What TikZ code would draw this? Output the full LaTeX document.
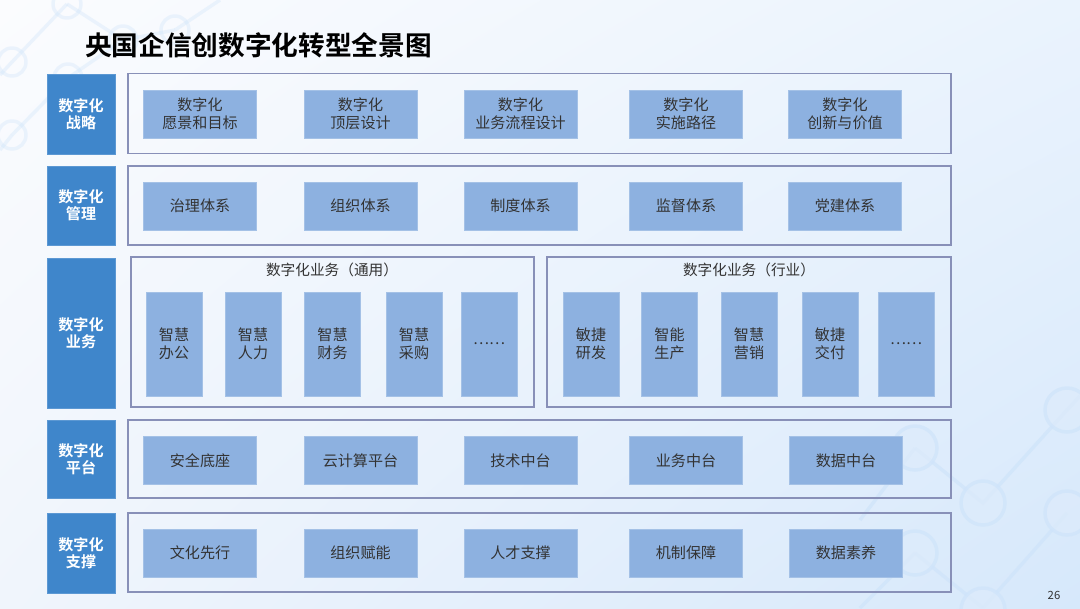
\documentclass[tikz,border=0pt]{standalone}
\usepackage{fontspec}
\usetikzlibrary{shadings}
\setmainfont{Noto Sans CJK SC}[BoldFont={Noto Sans CJK SC Bold}]
\definecolor{lblblue}{HTML}{3F86CB}
\definecolor{boxblue}{HTML}{8DB1E0}
\definecolor{framec}{HTML}{8890B8}
\definecolor{txt}{HTML}{333333}
\definecolor{deco}{HTML}{CFE4FA}
\definecolor{bgA}{HTML}{FBFCFE}
\definecolor{bgB}{HTML}{EAF3FD}
\definecolor{bgC}{HTML}{F0F5FC}
\definecolor{bgD}{HTML}{D6E8FB}
\definecolor{decofill}{HTML}{DDEBFB}
\begin{document}
\begin{tikzpicture}[x=0.75pt,y=-0.75pt,
  lbl/.style={draw=lblblue!85!white, fill=lblblue, text=white, font=\bfseries\fontsize{11.3}{13}\selectfont, align=center, minimum width=51pt, inner sep=0pt},
  frame/.style={draw=framec, line width=0.9pt, minimum width=617.25pt, inner sep=0pt},
  subframe/.style={draw=framec, line width=0.9pt, minimum height=112.5pt, inner sep=0pt},
  item/.style={draw=boxblue!80!white, fill=boxblue, text=txt, font=\fontsize{11.3}{13.5}\selectfont, align=center, minimum width=84.75pt, minimum height=36pt, inner sep=0pt},
  tall/.style={draw=boxblue!80!white, fill=boxblue, text=txt, font=\fontsize{11.3}{13.5}\selectfont, align=center, minimum width=42pt, minimum height=78pt, inner sep=0pt},
  sub/.style={text=txt, font=\fontsize{11}{13}\selectfont, inner sep=0pt},
  decoline/.style={draw=deco, line width=2.6pt},
  decocirc/.style={draw=deco, line width=2.6pt},
]
\useasboundingbox (0,0) rectangle (1080,608);
\shade[upper left=bgA, upper right=bgB, lower left=bgC, lower right=bgD] (0,0) rectangle (1080,608);

% decorations top-left
\begin{scope}[opacity=0.35]
\draw[decoline] (67,4) -- (123,40) -- (175,30);
\draw[decoline] (12,62) -- (67,4);
\draw[decoline] (12,62) -- (0,75);
\draw[decoline] (68,78) -- (12,135);
\draw[decoline] (68,78) -- (123,40);
\draw[decoline] (68,78) -- (115,115);
\draw[decoline] (12,135) -- (0,150);
\draw[decoline] (175,30) -- (220,0);
\foreach \p in {(67,4),(12,62),(123,40),(175,30),(68,78),(12,135)}
  \draw[decocirc] \p circle (14);
\end{scope}
% decorations bottom-right
\begin{scope}[opacity=0.7]
\draw[decoline] (915,448) -- (983,503) -- (1067,410);
\draw[decoline] (915,553) -- (983,608);
\draw[decoline] (983,608) -- (1067,513);
\draw[decoline] (915,448) -- (860,520);
\draw[decoline] (915,553) -- (860,608);
\draw[decoline] (1067,410) -- (1080,396);
\foreach \p in {(1067,410),(983,503),(915,448),(915,553),(1067,513),(983,610)}
  \draw[decocirc, fill=decofill] \p circle (22);
\end{scope}

% title
\node[font=\bfseries\fontsize{20}{24}\selectfont, anchor=west, inner sep=0pt] (title) at (85,45) {央国企信创数字化转型全景图};

% left labels
\node[lbl, minimum height=60pt]   (L1) at (81,114)   {数字化\\战略};
\node[lbl, minimum height=59.25pt](L2) at (81,205.5) {数字化\\管理};
\node[lbl, minimum height=112.5pt](L3) at (81,333)   {数字化\\业务};
\node[lbl, minimum height=58.5pt] (L4) at (81,459)   {数字化\\平台};
\node[lbl, minimum height=60pt]   (L5) at (81,553)   {数字化\\支撑};

% frames
\node[frame, minimum height=60pt]   (F1) at (539.5,113.5) {};
\node[frame, minimum height=59.25pt](F2) at (539.5,205.5) {};
\node[frame, minimum height=58.5pt] (F4) at (539.5,459) {};
\node[frame, minimum height=59.25pt](F5) at (539.5,552.5) {};

% row 1
\node[item] (s1) at (200,114)   {数字化\\愿景和目标};
\node[item] (s2) at (360.5,114) {数字化\\顶层设计};
\node[item] (s3) at (520.5,114) {数字化\\业务流程设计};
\node[item] (s4) at (686,114)   {数字化\\实施路径};
\node[item] (s5) at (845,114)   {数字化\\创新与价值};
% row 2
\node[item] (m1) at (200,206)   {治理体系};
\node[item] (m2) at (360.5,206) {组织体系};
\node[item] (m3) at (520.5,206) {制度体系};
\node[item] (m4) at (686,206)   {监督体系};
\node[item] (m5) at (845,206)   {党建体系};

% row 3
\node[subframe, minimum width=302.25pt] (G1) at (332.5,332) {};
\node[subframe, minimum width=303pt]    (G2) at (749,332) {};
\node[sub] (G1t) at (332,270) {数字化业务（通用）};
\node[sub] (G2t) at (749,270) {数字化业务（行业）};
\node[tall] (b1) at (174,344)   {智慧\\办公};
\node[tall] (b2) at (253,344)   {智慧\\人力};
\node[tall] (b3) at (332.5,344) {智慧\\财务};
\node[tall] (b4) at (414,344)   {智慧\\采购};
\node[tall] (b5) at (489,344)   {……};
\node[tall] (c1) at (591,344)   {敏捷\\研发};
\node[tall] (c2) at (669.5,344) {智能\\生产};
\node[tall] (c3) at (749,344)   {智慧\\营销};
\node[tall] (c4) at (830,344)   {敏捷\\交付};
\node[tall] (c5) at (906,344)   {……};

% row 4
\node[item] (p1) at (200,460.5)   {安全底座};
\node[item] (p2) at (360.5,460.5) {云计算平台};
\node[item] (p3) at (520.5,460.5) {技术中台};
\node[item] (p4) at (686,460.5)   {业务中台};
\node[item] (p5) at (846,460.5)   {数据中台};
% row 5
\node[item] (u1) at (200,553)   {文化先行};
\node[item] (u2) at (360.5,553) {组织赋能};
\node[item] (u3) at (520.5,553) {人才支撑};
\node[item] (u4) at (686,553)   {机制保障};
\node[item] (u5) at (846,553)   {数据素养};

% page number
\node[font=\fontsize{8.5}{10}\selectfont, text=txt] (pg) at (1054,595) {26};
\end{tikzpicture}
\end{document}
